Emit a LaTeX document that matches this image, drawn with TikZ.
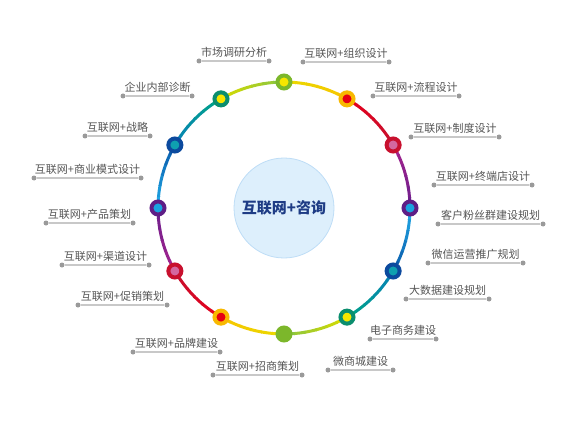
\documentclass[tikz,border=0pt]{standalone}
\usepackage{fontspec}
\newfontfamily\cjk{Noto Sans CJK SC}
\definecolor{hub-fill}{HTML}{DDEFFC}
\definecolor{hub-edge}{HTML}{BEDDF6}
\definecolor{hub-text}{HTML}{1E3C85}
\definecolor{tag-text}{HTML}{555555}
\definecolor{tag-line}{HTML}{C8C8C8}
\definecolor{tag-dot}{HTML}{9A9A9A}
% arc colours
\definecolor{arc-yellow}{HTML}{EBD800}
\definecolor{arc-amber}{HTML}{F6C600}
\definecolor{arc-red}{HTML}{E4001C}
\definecolor{arc-crimson}{HTML}{C8102E}
\definecolor{arc-magenta}{HTML}{A2248E}
\definecolor{arc-violet}{HTML}{6F1F8C}
\definecolor{arc-sky}{HTML}{20A8E6}
\definecolor{arc-navy}{HTML}{0B5CAB}
\definecolor{arc-cyan}{HTML}{0784B4}
\definecolor{arc-teal}{HTML}{00A08A}
\definecolor{arc-lime}{HTML}{D6DB00}
\definecolor{arc-green}{HTML}{8CC63F}
% station colours
\definecolor{dot-green}{HTML}{7CB72B}
\definecolor{dot-yellow}{HTML}{F7E600}
\definecolor{dot-orange}{HTML}{F8B800}
\definecolor{dot-red}{HTML}{E60012}
\definecolor{dot-crimson}{HTML}{C8102E}
\definecolor{dot-pink}{HTML}{D4679F}
\definecolor{dot-purple}{HTML}{5E1E86}
\definecolor{dot-sky}{HTML}{1AA3E0}
\definecolor{dot-navy}{HTML}{0C4A9E}
\definecolor{dot-teal}{HTML}{0FA0B0}
\definecolor{dot-jade}{HTML}{0B8E6E}
\tikzset{
  ring line/.style={line width=3pt},
  station/.style={circle, inner sep=0pt, minimum size=13pt, line width=4pt},
  hub/.style={circle, fill=hub-fill, draw=hub-edge, line width=0.8pt,
    minimum size=100pt, inner sep=0pt, text=hub-text,
    font=\cjk\bfseries\fontsize{15}{18}\selectfont},
  tagline/.style={draw=tag-line, line width=1.1pt},
  tagdot/.style={circle, fill=tag-dot, inner sep=0pt, minimum size=5pt},
  tagtext/.style={above, inner sep=2.8pt, text=tag-text,
    font=\cjk\fontsize{11}{13}\selectfont}
}
\begin{document}
\begin{tikzpicture}[x=1pt, y=1pt]
  \useasboundingbox (0,0) rectangle (576,432);
  \coordinate (o) at (284,224);
  \node[hub] (hub) at (o) {互联网+咨询};
  % coloured ring, one segment between two stations
  \foreach \a/\ca/\cb in {90/arc-yellow/arc-amber, 60/arc-red/arc-crimson,
      30/arc-magenta/arc-violet, 0/arc-sky/arc-navy, -30/arc-cyan/arc-teal,
      -60/arc-lime/arc-green, -90/arc-yellow/arc-amber, -120/arc-red/arc-crimson,
      -150/arc-magenta/arc-violet, 180/arc-sky/arc-navy, 150/arc-cyan/arc-teal,
      120/arc-lime/arc-green}{
    \foreach \i in {0,...,5}{
      \pgfmathtruncatemacro\p{\i*20}
      \draw[ring line, \cb!\p!\ca] ([shift={(\a-\i*5:126)}]o)
        arc[start angle=\a-\i*5, end angle=\a-\i*5-5.4, radius=126];
    }
  }
  % stations
  \foreach \a/\rc/\fc [count=\n] in {90/dot-green/dot-yellow, 60/dot-orange/dot-red,
      30/dot-crimson/dot-pink, 0/dot-purple/dot-sky, -30/dot-navy/dot-teal,
      -60/dot-jade/dot-yellow, -90/dot-green/dot-green, -120/dot-orange/dot-red,
      -150/dot-crimson/dot-pink, 180/dot-purple/dot-sky, 150/dot-navy/dot-teal,
      120/dot-jade/dot-yellow}
    \node[station, draw=\rc, fill=\fc] (s\n) at ([shift={(\a:126)}]o) {};

  % right labels
  \node[tagdot] (t1a) at (303,370) {};
  \node[tagdot] (t1b) at (389,370) {};
  \draw[tagline] (t1a) -- node[tagtext] (t1) {互联网+组织设计} (t1b);
  \node[tagdot] (t3a) at (373,336) {};
  \node[tagdot] (t3b) at (459,336) {};
  \draw[tagline] (t3a) -- node[tagtext] (t3) {互联网+流程设计} (t3b);
  \node[tagdot] (t4a) at (411,295) {};
  \node[tagdot] (t4b) at (499,295) {};
  \draw[tagline] (t4a) -- node[tagtext] (t4) {互联网+制度设计} (t4b);
  \node[tagdot] (t5a) at (434,247) {};
  \node[tagdot] (t5b) at (532,247) {};
  \draw[tagline] (t5a) -- node[tagtext] (t5) {互联网+终端店设计} (t5b);
  \node[tagdot] (t6a) at (438,208) {};
  \node[tagdot] (t6b) at (543,208) {};
  \draw[tagline] (t6a) -- node[tagtext] (t6) {客户粉丝群建设规划} (t6b);
  \node[tagdot] (t7a) at (428,169) {};
  \node[tagdot] (t7b) at (523,169) {};
  \draw[tagline] (t7a) -- node[tagtext] (t7) {微信运营推广规划} (t7b);
  \node[tagdot] (t8a) at (406,133) {};
  \node[tagdot] (t8b) at (489,133) {};
  \draw[tagline] (t8a) -- node[tagtext] (t8) {大数据建设规划} (t8b);
  \node[tagdot] (t9a) at (370,93) {};
  \node[tagdot] (t9b) at (436,93) {};
  \draw[tagline] (t9a) -- node[tagtext] (t9) {电子商务建设} (t9b);
  \node[tagdot] (t10a) at (328,62) {};
  \node[tagdot] (t10b) at (393,62) {};
  \draw[tagline] (t10a) -- node[tagtext] (t10) {微商城建设} (t10b);

  % left labels
  \node[tagdot] (t2a) at (199,371) {};
  \node[tagdot] (t2b) at (269,371) {};
  \draw[tagline] (t2a) -- node[tagtext] (t2) {市场调研分析} (t2b);
  \node[tagdot] (t11a) at (213,57) {};
  \node[tagdot] (t11b) at (302,57) {};
  \draw[tagline] (t11a) -- node[tagtext] (t11) {互联网+招商策划} (t11b);
  \node[tagdot] (t12a) at (133,80) {};
  \node[tagdot] (t12b) at (220,80) {};
  \draw[tagline] (t12a) -- node[tagtext] (t12) {互联网+品牌建设} (t12b);
  \node[tagdot] (t13a) at (78,127) {};
  \node[tagdot] (t13b) at (167,127) {};
  \draw[tagline] (t13a) -- node[tagtext] (t13) {互联网+促销策划} (t13b);
  \node[tagdot] (t14a) at (62,167) {};
  \node[tagdot] (t14b) at (149,167) {};
  \draw[tagline] (t14a) -- node[tagtext] (t14) {互联网+渠道设计} (t14b);
  \node[tagdot] (t15a) at (46,209) {};
  \node[tagdot] (t15b) at (133,209) {};
  \draw[tagline] (t15a) -- node[tagtext] (t15) {互联网+产品策划} (t15b);
  \node[tagdot] (t16a) at (34,254) {};
  \node[tagdot] (t16b) at (141,254) {};
  \draw[tagline] (t16a) -- node[tagtext] (t16) {互联网+商业模式设计} (t16b);
  \node[tagdot] (t17a) at (85,296) {};
  \node[tagdot] (t17b) at (150,296) {};
  \draw[tagline] (t17a) -- node[tagtext] (t17) {互联网+战略} (t17b);
  \node[tagdot] (t18a) at (123,336) {};
  \node[tagdot] (t18b) at (192,336) {};
  \draw[tagline] (t18a) -- node[tagtext] (t18) {企业内部诊断} (t18b);
\end{tikzpicture}
\end{document}
